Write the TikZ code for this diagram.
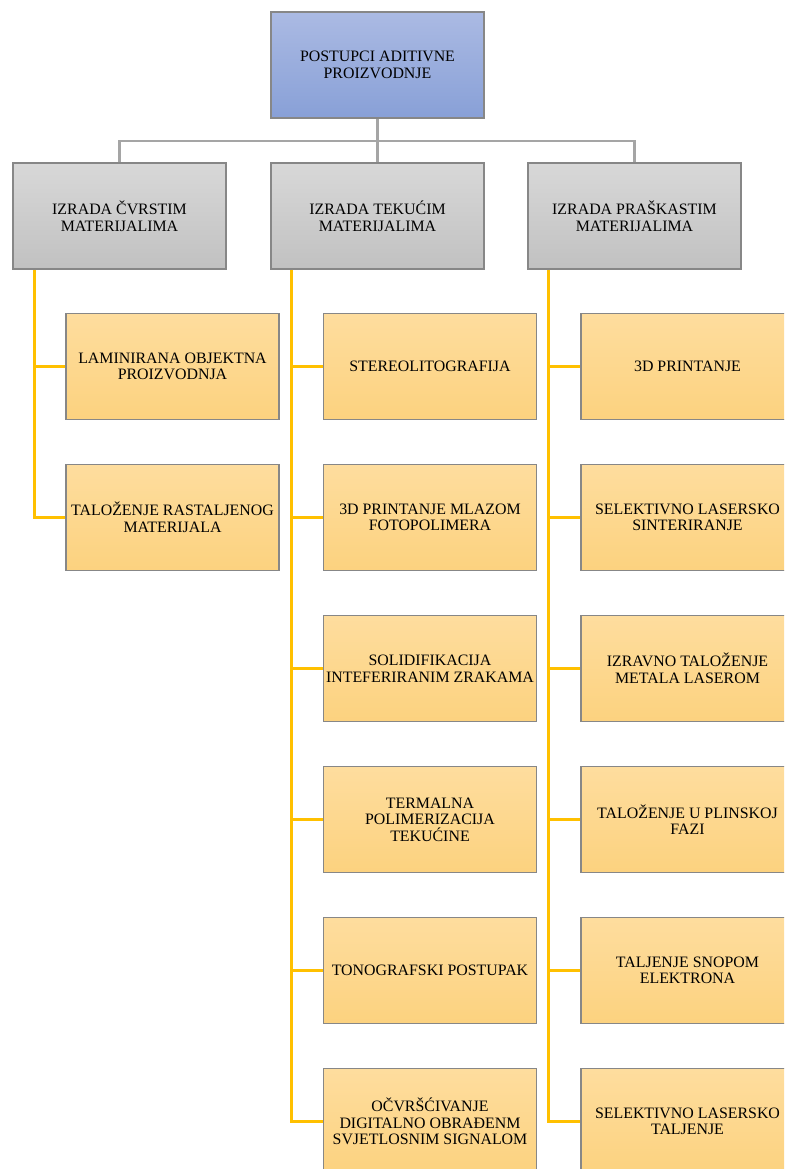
\documentclass[tikz,border=0pt]{standalone}
\usepackage{fontspec}
\setmainfont{Liberation Serif}
\definecolor{bluetop}{RGB}{171,186,227}
\definecolor{bluebot}{RGB}{136,160,215}
\definecolor{greytop}{RGB}{216,216,216}
\definecolor{greybot}{RGB}{193,193,193}
\definecolor{leaftop}{RGB}{254,221,158}
\definecolor{leafbot}{RGB}{252,210,127}
\definecolor{edge}{RGB}{135,135,135}
\definecolor{gline}{RGB}{165,165,165}
\definecolor{yline}{RGB}{255,192,0}
\tikzset{
    box/.style={draw=edge, line width=0.9pt, minimum width=5.325cm, minimum height=2.65cm,
        align=center, inner sep=1pt, font=\fontsize{11.3}{11.8}\selectfont},
    topbox/.style={box, top color=bluetop, bottom color=bluebot},
    headbox/.style={box, top color=greytop, bottom color=greybot},
    leaf/.style={box, top color=leaftop, bottom color=leafbot},
    glink/.style={draw=gline, line width=1.6pt},
    ylink/.style={draw=yline, line width=2.2pt}
}
\begin{document}
\begin{tikzpicture}[x=0.025cm,y=-0.025cm]
        \useasboundingbox (0,0) rectangle (784,1169);
        \clip (0,0) rectangle (784,1169);
        \node[topbox] (post) at (377.5,65) {POSTUPCI ADITIVNE\\PROIZVODNJE};
        \node[headbox] (cvr) at (119.5,216) {IZRADA ČVRSTIM\\MATERIJALIMA};
        \node[headbox] (tek) at (377.5,216) {IZRADA TEKUĆIM\\MATERIJALIMA};
        \node[headbox] (pra) at (634.5,216) {IZRADA PRAŠKASTIM\\MATERIJALIMA};
        \coordinate (bus) at (377.5,141);
        \draw[glink] (post) -- (tek);
        \draw[glink] (cvr.north) |- (bus) -| (pra.north);
        \foreach \t [count=\i] in {LAMINIRANA OBJEKTNA\\PROIZVODNJA, TALOŽENJE RASTALJENOG\\MATERIJALA}
        {
            \node[leaf] (c\i) at (172.5,{366.5+151*(\i-1)}) {\t};
        }
        \foreach \t [count=\i] in {STEREOLITOGRAFIJA, 3D PRINTANJE MLAZOM\\FOTOPOLIMERA,
            SOLIDIFIKACIJA\\INTEFERIRANIM ZRAKAMA, TERMALNA\\POLIMERIZACIJA\\TEKUĆINE,
            TONOGRAFSKI POSTUPAK, OČVRŠĆIVANJE\\DIGITALNO OBRAĐENM\\SVJETLOSNIM SIGNALOM}
        {
            \node[leaf] (t\i) at (430,{366.5+151*(\i-1)}) {\t};
        }
        \foreach \t [count=\i] in {3D PRINTANJE, SELEKTIVNO LASERSKO\\SINTERIRANJE,
            IZRAVNO TALOŽENJE\\METALA LASEROM, TALOŽENJE U PLINSKOJ\\FAZI,
            TALJENJE SNOPOM\\ELEKTRONA, SELEKTIVNO LASERSKO\\TALJENJE}
        {
            \node[leaf] (p\i) at (687.5,{366.5+151*(\i-1)}) {\t};
        }
        \coordinate (ct) at ([xshift=0.55cm]cvr.south west);
        \coordinate (tt) at ([xshift=0.53cm]tek.south west);
        \coordinate (pt) at ([xshift=0.53cm]pra.south west);
        \draw[ylink] (ct) |- (c2.west);
        \draw[ylink] (c1.west) -- (c1.west -| ct);
        \draw[ylink] (tt) |- (t6.west);
        \draw[ylink] (pt) |- (p6.west);
        \foreach \i in {1,...,5}
        {
            \draw[ylink] (t\i.west) -- (t\i.west -| tt);
            \draw[ylink] (p\i.west) -- (p\i.west -| pt);
        }
\end{tikzpicture}
\end{document}
